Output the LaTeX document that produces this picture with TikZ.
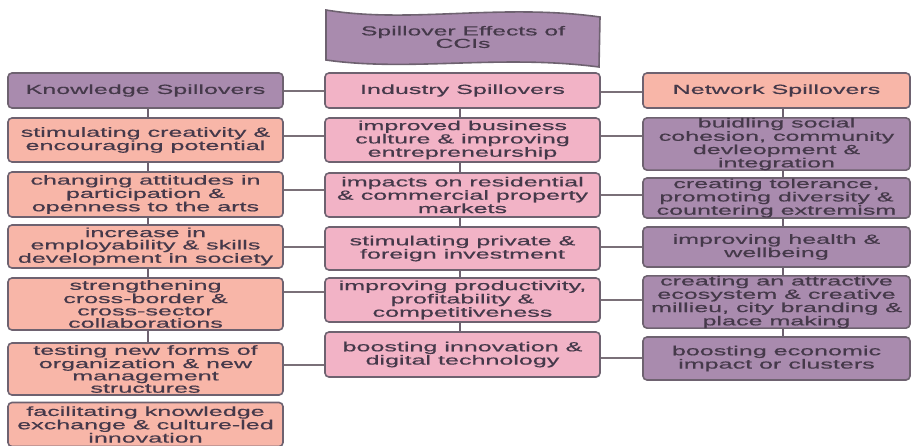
\documentclass[tikz,border=0pt]{standalone}
\usepackage{fontspec}
\setmainfont[FakeStretch=1.9,FakeBold=0.5]{Liberation Sans}
\definecolor{purp}{HTML}{A98BAE}
\definecolor{salm}{HTML}{F8B6A8}
\definecolor{pnk}{HTML}{F2B3C6}
\definecolor{bord}{HTML}{6E6270}
\definecolor{txt}{HTML}{45394A}
\definecolor{lin}{HTML}{7A7078}
\tikzset{
  box/.style={draw=bord, line width=1.6pt, rounded corners=4pt, inner sep=0pt,
    align=center, text=txt, font=\fontsize{13.2}{12.3}\selectfont},
  kbox/.style={box, minimum width=275},
  ibox/.style={box, minimum width=275},
  nbox/.style={box, minimum width=267},
  vline/.style={draw=bord, line width=2.2pt},
  hline/.style={draw=lin, line width=1.1pt},
}
\begin{document}
\begin{tikzpicture}[x=1pt,y=-1pt]
\useasboundingbox (0,0) rectangle (913,445);
\fill[white] (0,0) rectangle (913,445);

% banner
\draw[fill=purp, draw=bord, line width=1.6pt]
  (326,10) .. controls (410,24) and (500,3) .. (600,17)
  -- (599,67) .. controls (500,54) and (410,72) .. (326,60) -- cycle;
\node[text=txt, align=center, font=\fontsize{13}{12.5}\selectfont] (title) at (463,37)
  {Spillover Effects of\\CCIs};

% knowledge column
\node[kbox, fill=purp, minimum height=35] (kh) at (145.5,90.5) {Knowledge Spillovers};
\node[kbox, fill=salm, minimum height=44] (k1) at (145.5,140) {stimulating creativity \&\\encouraging potential};
\node[kbox, fill=salm, minimum height=45] (k2) at (145.5,194.5) {changing attitudes in\\participation \&\\openness to the arts};
\node[kbox, fill=salm, minimum height=43] (k3) at (145.5,246.5) {increase in\\employability \& skills\\development in society};
\node[kbox, fill=salm, minimum height=52] (k4) at (145.5,304) {strengthening\\cross-border \&\\cross-sector\\collaborations};
\node[kbox, fill=salm, minimum height=52] (k5) at (145.5,369) {testing new forms of\\organization \& new\\management\\structures};
\node[kbox, fill=salm, minimum height=44] (k6) at (145.5,424.5) {facilitating knowledge\\exchange \& culture-led\\innovation};

% industry column
\node[ibox, fill=pnk, minimum height=35] (ih) at (462.5,90.5) {Industry Spillovers};
\node[ibox, fill=pnk, minimum height=44] (i1) at (462.5,140) {improved business\\culture \& improving\\entrepreneurship};
\node[ibox, fill=pnk, minimum height=44] (i2) at (462.5,195) {impacts on residential\\\& commercial property\\markets};
\node[ibox, fill=pnk, minimum height=43] (i3) at (462.5,248.5) {stimulating private \&\\foreign investment};
\node[ibox, fill=pnk, minimum height=44] (i4) at (462.5,300) {improving productivity,\\profitability \&\\competitiveness};
\node[ibox, fill=pnk, minimum height=45] (i5) at (462.5,354.5) {boosting innovation \&\\digital technology};

% network column
\node[nbox, fill=salm, minimum height=35] (nh) at (776.5,90.5) {Network Spillovers};
\node[nbox, fill=purp, minimum height=52] (n1) at (776.5,144) {buidling social\\cohesion, community\\devleopment \&\\integration};
\node[nbox, fill=purp, minimum height=40] (n2) at (776.5,198) {creating tolerance,\\promoting diversity \&\\countering extremism};
\node[nbox, fill=purp, minimum height=40] (n3) at (776.5,247) {improving health \&\\wellbeing};
\node[nbox, fill=purp, minimum height=50] (n4) at (776.5,302) {creating an attractive\\ecosystem \& creative\\millieu, city branding \&\\place making};
\node[nbox, fill=purp, minimum height=43] (n5) at (776.5,358.5) {boosting economic\\impact or clusters};

% vertical connectors
\foreach \a/\b in {kh/k1,k1/k2,k2/k3,k3/k4,k4/k5}
  \draw[vline] ([xshift=2.5]\a.south) -- ([xshift=2.5]\b.north);
\foreach \a/\b in {ih/i1,i1/i2,i2/i3,i3/i4,i4/i5}
  \draw[vline] ([xshift=-2.5]\a.south) -- ([xshift=-2.5]\b.north);
\foreach \a/\b in {nh/n1,n1/n2,n2/n3,n3/n4,n4/n5}
  \draw[vline] ([xshift=6.5]\a.south) -- ([xshift=6.5]\b.north);

% horizontal connectors
\foreach \a/\b/\y in {kh/ih/91,k1/i1/136,k2/i2/190,k3/i3/247,k4/i4/292,k5/i5/365}
  \draw[hline] (\a.east |- 0,\y) -- (\b.west |- 0,\y);
\foreach \a/\b/\y in {ih/nh/92,i1/n1/136,i2/n2/195,i3/n3/247,i4/n4/300,i5/n5/358}
  \draw[hline] (\a.east |- 0,\y) -- (\b.west |- 0,\y);
\end{tikzpicture}
\end{document}
